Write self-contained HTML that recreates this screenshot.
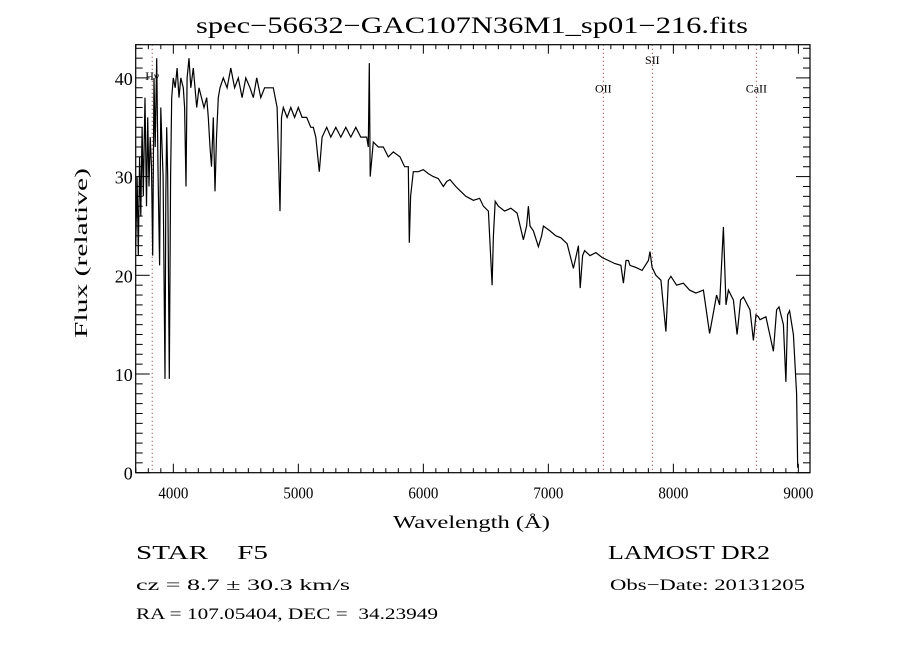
<!DOCTYPE html>
<html><head><meta charset="utf-8"><style>
html,body{margin:0;padding:0;background:#fff;}
svg{display:block;}
text{font-family:"Liberation Serif",serif;fill:#000;}
</style></head><body>
<svg id="chart" width="900" height="650" viewBox="0 0 900 650" xmlns="http://www.w3.org/2000/svg">
<rect x="0" y="0" width="900" height="650" fill="#fff"/>
<text x="196" y="33" font-size="23" textLength="552" lengthAdjust="spacingAndGlyphs">spec−56632−GAC107N36M1_sp01−216.fits</text>
<g id="ticks"></g>
<g id="lines"></g>
<polyline id="spec" fill="none" stroke="#000" stroke-width="1.2"/>
<rect x="135.7" y="44.7" width="674.3" height="428" fill="none" stroke="#000" stroke-width="1.2"/>
<text x="393" y="528" font-size="18" textLength="157" lengthAdjust="spacingAndGlyphs">Wavelength (Å)</text>
<text x="0" y="0" font-size="18" text-anchor="middle" textLength="170" lengthAdjust="spacingAndGlyphs" transform="translate(87,253) rotate(-90)">Flux (relative)</text>
<text x="136" y="559" font-size="20" xml:space="preserve" textLength="132" lengthAdjust="spacingAndGlyphs">STAR    F5</text>
<text x="608" y="559" font-size="20" textLength="162" lengthAdjust="spacingAndGlyphs">LAMOST DR2</text>
<text x="136" y="590" font-size="16" textLength="214" lengthAdjust="spacingAndGlyphs">cz = 8.7 ± 30.3 km/s</text>
<text x="610" y="590" font-size="16" textLength="195" lengthAdjust="spacingAndGlyphs">Obs−Date: 20131205</text>
<text x="136" y="619" font-size="16" xml:space="preserve" textLength="302" lengthAdjust="spacingAndGlyphs">RA = 107.05404, DEC =  34.23949</text>
</svg>
<script>
const wavelengths=[3700,3710,3720,3730,3740,3750,3760,3773,3785,3795,3805,3815,3825,3835,3845,3855,3867,3878,3890,3900,3907,3918,3933,3940,3947,3955,3968,3978,3987,4000,4015,4030,4045,4060,4080,4090,4101,4110,4125,4140,4160,4187,4205,4225,4245,4267,4280,4293,4305,4320,4333,4345,4360,4373,4400,4430,4460,4490,4520,4550,4580,4613,4640,4667,4700,4730,4760,4800,4830,4853,4865,4880,4910,4940,4970,5000,5030,5067,5100,5120,5140,5168,5190,5227,5260,5300,5340,5380,5420,5460,5500,5547,5560,5568,5575,5600,5640,5680,5720,5760,5813,5850,5880,5888,5898,5920,5960,6000,6040,6080,6120,6160,6187,6213,6260,6300,6340,6400,6450,6480,6520,6550,6560,6575,6600,6650,6700,6750,6800,6826,6840,6853,6880,6920,6946,6960,7013,7060,7100,7150,7200,7240,7255,7274,7290,7333,7380,7430,7480,7530,7580,7600,7621,7640,7653,7700,7750,7800,7813,7830,7860,7900,7940,7960,7980,8026,8080,8130,8180,8240,8290,8346,8370,8400,8421,8440,8480,8510,8538,8560,8613,8640,8661,8680,8693,8740,8800,8826,8845,8880,8900,8914,8930,8960,8986,8995,9000];
const fluxes=[23,30,22,32,26,35,28,38,27,36,29,34,31,22,40,33,42,30,21,37,34,30,9.5,28,35,30,9.5,30,38,40,39,41,38,40,39,37,29,40,42,39,41,37,39,38,37,38,36,33,31,36,28.5,34,38,39,40,39,41,39,40,38,40,39,38,40,38,39,39,39,37,26.5,36,37,36,37,36,37,36,36,35,35,34,30.5,34,35,34,35,34,35,34,35,34,34,33,41.5,30,33.5,33,33,32,32.5,32,31,31,23.3,28,30.5,30.5,30.7,30.3,30,29.8,29,29.5,29.7,29,28.5,28,27.6,27.8,27,26.5,19,24,27.5,27,26.5,26.8,26.3,23.6,25,27,25,24.5,22.9,24,25,24.5,24,23.8,23.2,20.7,23,18.7,22,22.5,22,22.3,21.8,21.5,21.2,21,19.2,21.5,21.5,21,20.8,20.5,21.5,22.4,20.8,20,19.5,14.3,19.5,19.9,19,19.2,18.5,18.2,18.5,14.1,18,17,24.9,17,18.5,17.5,14,17.5,17.8,16.5,13.4,16,15.8,15.5,15.8,12.3,16.5,16.8,15,9.2,16,16.4,14,8,0.5];
const tickLabelsX=["4000","5000","6000","7000","8000","9000"];
const tickValuesX=[4000,5000,6000,7000,8000,9000];
const tickLabelsY=["0","10","20","30","40"];
const tickValuesY=[0,10,20,30,40];
const lineNames=["Hγ","OII","SII","CaII"];
const lineWaves=[3831,7440,7832,8664];
const lineLabelFlux=[39.8,38.5,41.4,38.5];

const L=135.7,R=810,T=44.7,B=472.7;
const XMIN=3699,XMAX=9093,YMIN=0,YMAX=(B-T)/9.87;
const xs=v=>L+(v-XMIN)/(XMAX-XMIN)*(R-L);
const ys=v=>B-(v-YMIN)/(YMAX-YMIN)*(B-T);
const NS="http://www.w3.org/2000/svg";
const tg=document.getElementById('ticks');
function ln(g,x1,y1,x2,y2,name,extra){
  const l=document.createElementNS(NS,'line');
  l.setAttribute('x1',x1);l.setAttribute('y1',y1);l.setAttribute('x2',x2);l.setAttribute('y2',y2);
  l.setAttribute('stroke',extra||'#000');l.setAttribute('stroke-width','1');
  
  
  g.appendChild(l);return l;
}
for(let w=3700;w<=XMAX;w+=100){
  const major=w%1000===0, x=xs(w), len=major?9:4.5;
  ln(tg,x,B,x,B-len,'x-tick');
  ln(tg,x,T,x,T+len,'x-tick-top');
}
for(let v=0;v<=YMAX;v+=1){
  const major=v%10===0, y=ys(v), len=major?14:7;
  ln(tg,L,y,L+len,y,'y-tick');
  ln(tg,R,y,R-len,y,'y-tick-right');
}
tickValuesX.forEach((v,i)=>{
  const t=document.createElementNS(NS,'text');
  t.setAttribute('x',xs(v)-15);t.setAttribute('y',B+26);t.setAttribute('font-size','17');
  t.setAttribute('textLength','30');t.setAttribute('lengthAdjust','spacingAndGlyphs');
  t.setAttribute('font-family','"Liberation Sans",sans-serif');
  
  
  t.textContent=tickLabelsX[i];tg.appendChild(t);
});
tickValuesY.forEach((v,i)=>{
  const t=document.createElementNS(NS,'text');
  t.setAttribute('x',L-3);t.setAttribute('y',ys(v)+7);t.setAttribute('font-size','18');
  t.setAttribute('text-anchor','end');t.setAttribute('font-family','"Liberation Sans",sans-serif');
  
  
  t.textContent=tickLabelsY[i];tg.appendChild(t);
});
const lg=document.getElementById('lines');
lineWaves.forEach((w,i)=>{
  const l=ln(lg,xs(w),T,xs(w),B,'line-marker','#8b2a2a');
  l.setAttribute('stroke-dasharray','1,3');
  const t=document.createElementNS(NS,'text');
  t.setAttribute('x',xs(w));t.setAttribute('y',ys(lineLabelFlux[i]));t.setAttribute('font-size','12');
  t.setAttribute('text-anchor','middle');
  
  
  t.textContent=lineNames[i];lg.appendChild(t);
});
document.getElementById('spec').setAttribute('points',wavelengths.map((w,i)=>xs(w).toFixed(1)+','+ys(fluxes[i]).toFixed(1)).join(' '));
</script>
</body></html>
